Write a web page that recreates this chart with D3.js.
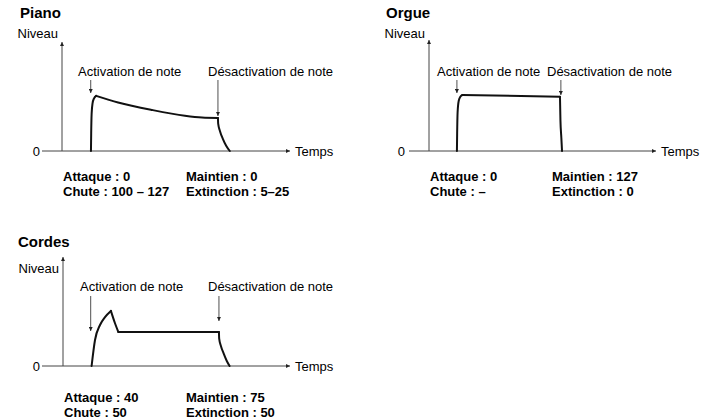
<!DOCTYPE html>
<html>
<head>
<meta charset="utf-8">
<script src="https://cdn.jsdelivr.net/npm/d3@7"></script>
<style>
  body { margin: 0; background: #fff; }
  svg { font-family: "Liberation Sans", Arial, sans-serif; }
  .title { font-weight: bold; font-size: 15px; }
  .lbl { font-size: 13px; }
  .param { font-weight: bold; font-size: 13px; }
</style>
</head>
<body>
<svg width="708" height="419"></svg>
<script>
// envelope points: [time (0-100 of axis length), level (0-127)]
var pianoAttack  = [[12.7,0],[12.8,40],[13.0,85],[13.4,108],[14.0,119],[15.0,125]];
var pianoDecay   = [[15.0,125],[24.6,110],[39.5,93],[53.9,80],[61.4,76],[68.4,75]];
var pianoRelease = [[68.4,75],[68.5,62],[69.3,45],[70.5,28],[72,12],[73.6,0]];

var orgueAttack  = [[12.3,0],[12.4,40],[12.6,88],[13.1,114],[13.8,123],[14.7,127]];
var orgueDecay   = [[14.7,127],[57.7,123]];
var orgueRelease = [[57.7,123],[57.9,70],[58.3,30],[58.6,0]];

var cordesAttack  = [[12.6,0],[14.1,59],[16.3,93],[18.5,111],[21.1,125]];
var cordesDecay   = [[21.1,125],[22.9,97],[24.4,77]];
var cordesSustain = [[24.4,77],[68.7,77]];
var cordesRelease = [[68.7,77],[68.8,62],[69.6,45],[70.8,28],[72.1,12],[73.4,0]];

var titles = ["Piano", "Orgue", "Cordes"];
var noteOnLabel = "Activation de note";
var noteOffLabel = "Désactivation de note";
var pianoParams  = ["Attaque : 0", "Chute : 100 – 127", "Maintien : 0", "Extinction : 5–25"];
var orgueParams  = ["Attaque : 0", "Chute : –", "Maintien : 127", "Extinction : 0"];
var cordesParams = ["Attaque : 40", "Chute : 50", "Maintien : 75", "Extinction : 50"];

var svg = d3.select("svg");

svg.append("defs").append("marker")
    .attr("id", "tip")
    .attr("viewBox", "0 -5 10 10")
    .attr("refX", 10)
    .attr("refY", 0)
    .attr("markerWidth", 4)
    .attr("markerHeight", 4)
    .attr("markerUnits", "userSpaceOnUse")
    .attr("orient", "auto")
  .append("path")
    .attr("d", "M0,-5L10,0L0,5Z")
    .attr("fill", "#222");

var panels = [
  { title: titles[0], titleX: 20, ox: 62, oy: 151, w: 228, top: 42, titleY: 18, niveauY: 38,
    segs: [pianoAttack, pianoDecay, pianoRelease], params: pianoParams,
    onX: 12.6, onY: [80, 93], offX: 68.4, offY: [80, 116],
    onTx: 78, offTx: 208, txtY: 76, zeroX: 40, axStart: 42, parY: 181, par2X: 186 },
  { title: titles[1], titleX: 386, ox: 429, oy: 151, w: 227, top: 40, titleY: 18, niveauY: 38,
    segs: [orgueAttack, orgueDecay, orgueRelease], params: orgueParams,
    onX: 12.3, onY: [80, 93], offX: 58.1, offY: [80, 95],
    onTx: 437, offTx: 547, txtY: 76, zeroX: 405, axStart: 409, parY: 181, par2X: 552 },
  { title: titles[2], titleX: 18, ox: 63, oy: 366, w: 227, top: 257, titleY: 247, niveauY: 273,
    segs: [cordesAttack, cordesDecay, cordesSustain, cordesRelease], params: cordesParams,
    onX: 12.2, onY: [296, 331], offX: 68.7, offY: [296, 321],
    onTx: 80, offTx: 208, txtY: 291, zeroX: 40, axStart: 42, parY: 402, par2X: 186 }
];

panels.forEach(function(p) {
  var g = svg.append("g");
  var x = d3.scaleLinear().domain([0, 100]).range([p.ox, p.ox + p.w]);
  var y = d3.scaleLinear().domain([0, 127]).range([p.oy, p.oy - 56]);

  // axes
  g.append("line")
    .attr("x1", p.axStart).attr("y1", p.oy)
    .attr("x2", x(100)).attr("y2", p.oy)
    .attr("stroke", "#444").attr("stroke-width", 1)
    .attr("marker-end", "url(#tip)");
  g.append("line")
    .attr("x1", p.ox).attr("y1", p.oy)
    .attr("x2", p.ox).attr("y2", p.top)
    .attr("stroke", "#444").attr("stroke-width", 1)
    .attr("marker-end", "url(#tip)");

  g.append("text").attr("class", "title")
    .attr("x", p.titleX).attr("y", p.titleY).text(p.title);

  g.append("text").attr("class", "lbl")
    .attr("x", p.ox - 4).attr("y", p.niveauY)
    .attr("text-anchor", "end").text("Niveau");
  g.append("text").attr("class", "lbl")
    .attr("x", p.zeroX).attr("y", p.oy + 4.5)
    .attr("text-anchor", "end").text("0");
  g.append("text").attr("class", "lbl")
    .attr("x", x(100) + 5).attr("y", p.oy + 4.5).text("Temps");

  // envelope
  var line = d3.line()
    .x(function(d) { return x(d[0]); })
    .y(function(d) { return y(d[1]); })
    .curve(d3.curveMonotoneX);
  g.selectAll("path.env")
    .data(p.segs)
    .enter().append("path")
    .attr("class", "env")
    .attr("d", line)
    .attr("fill", "none")
    .attr("stroke", "#111")
    .attr("stroke-width", 2)
    .attr("stroke-linecap", "round")
    .attr("stroke-linejoin", "round");

  // note on / off markers
  g.append("text").attr("class", "lbl")
    .attr("x", p.onTx).attr("y", p.txtY).text(noteOnLabel);
  g.append("text").attr("class", "lbl")
    .attr("x", p.offTx).attr("y", p.txtY).text(noteOffLabel);
  [[p.onX, p.onY], [p.offX, p.offY]].forEach(function(a) {
    g.append("line")
      .attr("x1", x(a[0])).attr("y1", a[1][0])
      .attr("x2", x(a[0])).attr("y2", a[1][1])
      .attr("stroke", "#222").attr("stroke-width", 0.8)
      .attr("marker-end", "url(#tip)");
  });

  // parameters
  g.selectAll("text.param")
    .data(p.params)
    .enter().append("text")
    .attr("class", "param")
    .attr("x", function(d, i) { return i < 2 ? p.ox + 1 : p.par2X; })
    .attr("y", function(d, i) { return p.parY + (i % 2) * 15; })
    .text(function(d) { return d; });
});
</script>
</body>
</html>
